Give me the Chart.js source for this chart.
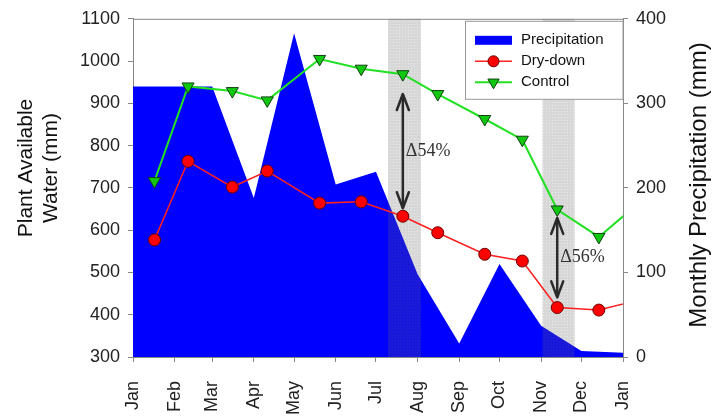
<!DOCTYPE html>
<html>
<head>
<meta charset="utf-8">
<script src="https://cdn.jsdelivr.net/npm/chart.js@4.4.1/dist/chart.umd.min.js"></script>
<style>
  html, body { margin:0; padding:0; background:#fff; }
  #wrap { width:715px; height:419px; }
</style>
</head>
<body>
<div id="wrap"><canvas id="chart" width="715" height="419"></canvas></div>
<script>
// Month ticks (day of year) and their labels
const month_days   = [0, 31, 59, 90, 120, 151, 181, 212, 243, 273, 304, 334, 365];
const month_labels = ['Jan','Feb','Mar','Apr','May','Jun','Jul','Aug','Sep','Oct','Nov','Dec','Jan'];

// Monthly precipitation (mm), placed at the start of each month
const precip_mm = [320, 320, 320, 188, 383, 204, 219, 98, 16, 110, 37, 7, 5];

// Plant available water (mm) on each sampling day (last one runs past the axis)
const sample_days = [16, 41, 74, 100, 139, 170, 201, 227, 262, 290, 316, 347, 381];
const drydown_mm  = [577, 763, 702, 740, 664, 667, 633, 594, 543, 527, 417, 411, 438];
const control_mm  = [716, 940, 929, 907, 1005, 982, 969, 922, 863, 814, 649, 584, 676];

// Shaded sampling windows (day of year)
const band_starts = [190, 305];
const band_ends   = [214.5, 329];

// Difference arrows between the treatments
const arrow_days    = [201, 316];
const arrow_tops    = [922, 629];
const arrow_bottoms = [652, 441];
const arrow_labels  = ['\u039454%', '\u039456%'];

Chart.defaults.font.family = '"Liberation Sans", Arial, sans-serif';
Chart.defaults.color = '#222';

// small dotted tile for the shaded windows
const hatch = document.createElement('canvas');
hatch.width = hatch.height = 3;
(() => {
  const g = hatch.getContext('2d');
  g.fillStyle = 'rgba(100,100,100,0.26)';
  g.fillRect(0, 0, 3, 3);
  g.clearRect(0, 0, 1, 1);
  g.fillStyle = 'rgba(100,100,100,0.14)';
  g.fillRect(0, 0, 1, 1);
})();

function arrowHead(ctx, x, y, dir) {
  ctx.beginPath();
  ctx.moveTo(x - 6, y - dir * 16);
  ctx.lineTo(x, y);
  ctx.lineTo(x + 6, y - dir * 16);
  ctx.stroke();
}

function downTriangle(ctx, x, y, r) {
  ctx.beginPath();
  ctx.moveTo(x - r * 0.866, y - r * 0.5);
  ctx.lineTo(x + r * 0.866, y - r * 0.5);
  ctx.lineTo(x, y + r);
  ctx.closePath();
  ctx.fill();
  ctx.stroke();
}

const extras = {
  id: 'extras',
  afterDatasetDraw(chart, args) {
    // shaded windows go over the precipitation area, under the lines
    if (args.index !== 0) return;
    const {ctx, chartArea: a, scales: {x}} = chart;
    ctx.save();
    ctx.fillStyle = ctx.createPattern(hatch, 'repeat');
    band_starts.forEach((s, i) => {
      const x0 = x.getPixelForValue(s);
      const x1 = x.getPixelForValue(band_ends[i]);
      ctx.fillRect(x0, a.top, x1 - x0, a.bottom - a.top);
    });
    ctx.restore();
  },
  afterDatasetsDraw(chart) {
    const {ctx, scales: {x, y}} = chart;
    ctx.save();
    ctx.strokeStyle = '#2a2a2a';
    ctx.lineWidth = 2.5;
    ctx.lineCap = 'round';
    ctx.lineJoin = 'round';
    arrow_days.forEach((d, i) => {
      const px = x.getPixelForValue(d);
      const y0 = y.getPixelForValue(arrow_tops[i]);
      const y1 = y.getPixelForValue(arrow_bottoms[i]);
      ctx.beginPath();
      ctx.moveTo(px, y0 + 1);
      ctx.lineTo(px, y1 - 1);
      ctx.stroke();
      arrowHead(ctx, px, y0, -1);
      arrowHead(ctx, px, y1, 1);
      ctx.fillStyle = '#333';
      ctx.font = '18px "Liberation Serif", "Times New Roman", serif';
      ctx.textAlign = 'left';
      ctx.textBaseline = 'middle';
      ctx.fillText(arrow_labels[i], px + 3, (y0 + y1) / 2);
    });
    ctx.restore();
  },
  afterDraw(chart) {
    const {ctx, chartArea: a} = chart;
    ctx.save();

    // top frame line
    ctx.strokeStyle = '#888';
    ctx.lineWidth = 1;
    ctx.beginPath();
    ctx.moveTo(a.left, a.top + 0.5);
    ctx.lineTo(a.right, a.top + 0.5);
    ctx.stroke();

    // axis titles
    ctx.fillStyle = '#111';
    ctx.textAlign = 'center';
    ctx.textBaseline = 'middle';
    ctx.font = '21px "Liberation Sans", Arial, sans-serif';
    ctx.save();
    ctx.translate(26, 168);
    ctx.rotate(-Math.PI / 2);
    ctx.fillText('Plant Available', 0, 0);
    ctx.fillText('Water (mm)', 0, 25);
    ctx.restore();
    ctx.save();
    ctx.font = '24px "Liberation Sans", Arial, sans-serif';
    ctx.translate(699, 185);
    ctx.rotate(-Math.PI / 2);
    ctx.fillText('Monthly Precipitation (mm)', 0, 0);
    ctx.restore();

    // legend box in the top right corner of the plot
    const ds = chart.data.datasets;
    const bx = 465.5, by = a.top + 2.5, bw = a.right - bx, bh = 78;
    ctx.fillStyle = '#fff';
    ctx.fillRect(bx, by, bw, bh);
    ctx.strokeStyle = '#999';
    ctx.strokeRect(bx, by, bw, bh);
    const sx = 475, sw = 37, rows = [by + 19, by + 40, by + 61];
    ctx.font = '15px "Liberation Sans", Arial, sans-serif';
    ctx.textAlign = 'left';
    ds.forEach((d, i) => {
      const ry = rows[i];
      if (i === 0) {
        ctx.fillStyle = d.backgroundColor;
        ctx.fillRect(sx, ry - 4.5, sw, 9);
      } else {
        ctx.strokeStyle = d.borderColor;
        ctx.lineWidth = d.borderWidth;
        ctx.beginPath();
        ctx.moveTo(sx, ry);
        ctx.lineTo(sx + sw, ry);
        ctx.stroke();
        ctx.fillStyle = d.pointBackgroundColor;
        ctx.strokeStyle = d.pointBorderColor;
        ctx.lineWidth = 1;
        if (d.pointStyle === 'circle') {
          ctx.beginPath();
          ctx.arc(sx + sw / 2, ry, 5.5, 0, Math.PI * 2);
          ctx.fill();
          ctx.stroke();
        } else {
          downTriangle(ctx, sx + sw / 2, ry, 6.5);
        }
      }
      ctx.fillStyle = '#111';
      ctx.fillText(d.label, sx + sw + 9, ry);
    });
    ctx.restore();
  }
};

const axis_grid   = {drawOnChartArea: false, tickLength: 5, color: '#888'};
const axis_border = {color: '#888'};

new Chart(document.getElementById('chart'), {
  type: 'line',
  data: {
    datasets: [{
      label: 'Precipitation',
      data: month_days.map((d, i) => ({x: d, y: precip_mm[i]})),
      yAxisID: 'y2',
      fill: 'origin',
      backgroundColor: '#0000ff',
      borderColor: '#0000ff',
      borderWidth: 0,
      pointRadius: 0,
      tension: 0,
      order: 2,
    }, {
      label: 'Dry-down',
      data: sample_days.map((d, i) => ({x: d, y: drydown_mm[i]})),
      yAxisID: 'y',
      borderColor: '#ff2020',
      borderWidth: 1.5,
      pointStyle: 'circle',
      pointRadius: 6,
      pointBackgroundColor: '#ff0000',
      pointBorderColor: '#6a0000',
      pointBorderWidth: 1,
      order: 1,
    }, {
      label: 'Control',
      data: sample_days.map((d, i) => ({x: d, y: control_mm[i]})),
      yAxisID: 'y',
      borderColor: '#22e022',
      borderWidth: 2,
      pointStyle: 'triangle',
      rotation: 180,
      pointRadius: 7,
      pointBackgroundColor: '#10c810',
      pointBorderColor: '#124012',
      pointBorderWidth: 1,
      order: 1,
    }],
  },
  options: {
    responsive: false,
    animation: false,
    layout: {padding: {top: 16, left: 0, right: 0, bottom: 0}},
    plugins: {
      legend: {display: false},
      tooltip: {enabled: false},
    },
    scales: {
      x: {
        type: 'linear',
        min: 0,
        max: 365,
        afterBuildTicks: ax => { ax.ticks = month_days.map(v => ({value: v})); },
        afterFit: s => { s.height = 62; },
        ticks: {
          callback: (v, i) => month_labels[i],
          autoSkip: false,
          minRotation: 90,
          maxRotation: 90,
          padding: 19,
          font: {size: 18},
        },
        grid: axis_grid,
        border: axis_border,
      },
      y: {
        position: 'left',
        min: 300,
        max: 1100,
        afterFit: s => { s.width = 133; },
        ticks: {stepSize: 100, padding: 8, font: {size: 18}, callback: v => String(v)},
        grid: axis_grid,
        border: axis_border,
      },
      y2: {
        position: 'right',
        min: 0,
        max: 400,
        afterFit: s => { s.width = 92; },
        ticks: {stepSize: 100, padding: 8, font: {size: 18}, callback: v => String(v)},
        grid: axis_grid,
        border: axis_border,
      },
    },
  },
  plugins: [extras],
});
</script>
</body>
</html>
